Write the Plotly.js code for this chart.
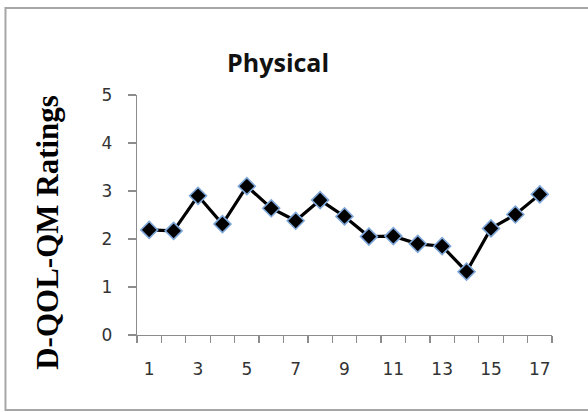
<!DOCTYPE html>
<html>
<head>
<meta charset="utf-8">
<script src="https://cdn.plot.ly/plotly-3.0.1.min.js"></script>
<style>
  html, body { margin: 0; padding: 0; background: #ffffff; }
  #chart { width: 588px; height: 412px; }
</style>
</head>
<body>
<div id="chart"></div>
<script>
// Physical domain ratings per session (D-QOL-QM scale 0–5)
const sessions = [1, 2, 3, 4, 5, 6, 7, 8, 9, 10, 11, 12, 13, 14, 15, 16, 17];
const ratings = [2.19, 2.17, 2.90, 2.31, 3.10, 2.64, 2.38, 2.81, 2.47, 2.05, 2.06, 1.90, 1.85, 1.32, 2.22, 2.51, 2.93];
const xTickLabels = ['1', '3', '5', '7', '9', '11', '13', '15', '17'];
const xTickValues = [1, 3, 5, 7, 9, 11, 13, 15, 17];
const yTickValues = [0, 1, 2, 3, 4, 5];

const axisGrey = '#8c8c8c';

const trace = {
  x: sessions,
  y: ratings,
  type: 'scatter',
  mode: 'lines+markers',
  line: { color: '#000000', width: 3.2 },
  marker: {
    symbol: 'diamond',
    size: 13,
    color: '#000000',
    line: { color: '#7ea6d8', width: 1.6 }
  },
  hoverinfo: 'x+y'
};

const layout = {
  width: 588,
  height: 412,
  margin: { l: 137, r: 36, t: 95, b: 77 },
  paper_bgcolor: '#ffffff',
  plot_bgcolor: '#ffffff',
  showlegend: false,
  title: {
    text: '<b>Physical</b>',
    font: { family: 'Open Sans, sans-serif', size: 25, color: '#111111' },
    xref: 'container', x: 0.473, xanchor: 'center',
    yref: 'container', y: 0.847, yanchor: 'middle'
  },
  xaxis: {
    range: [0.5, 17.5],
    tickvals: xTickValues,
    ticktext: xTickLabels,
    ticks: '',
    ticklabelstandoff: 18,
    minor: { ticks: 'outside', tick0: 0.5, dtick: 1, ticklen: 7, tickwidth: 1.3, tickcolor: axisGrey },
    showline: true, linecolor: axisGrey, linewidth: 1.3,
    showgrid: false, zeroline: false,
    tickfont: { family: 'DejaVu Sans, sans-serif', size: 17, color: '#333333' },
    fixedrange: true
  },
  yaxis: {
    range: [0, 5],
    tickvals: yTickValues,
    ticks: 'outside', ticklen: 8, tickwidth: 1.3, tickcolor: axisGrey,
    ticklabelstandoff: 12,
    showline: true, linecolor: axisGrey, linewidth: 1.3,
    showgrid: false, zeroline: false,
    tickfont: { family: 'DejaVu Sans, sans-serif', size: 17, color: '#333333' },
    fixedrange: true
  },
  annotations: [{
    text: '<b>D-QOL-QM Ratings</b>',
    xref: 'paper', yref: 'paper',
    x: -0.2145, y: 0.43,
    xanchor: 'center', yanchor: 'middle',
    textangle: -90,
    showarrow: false,
    font: { family: 'Liberation Serif, Times New Roman, serif', size: 31, color: '#000000' }
  }],
  shapes: [{
    type: 'rect',
    xref: 'paper', yref: 'paper',
    x0: -0.3169, x1: 1.12, y0: -0.3125, y1: 1.3625,
    line: { color: '#a6a6a6', width: 2 },
    fillcolor: 'rgba(0,0,0,0)',
    layer: 'below'
  }]
};

Plotly.newPlot('chart', [trace], layout, { displayModeBar: false, staticPlot: true });
</script>
</body>
</html>
